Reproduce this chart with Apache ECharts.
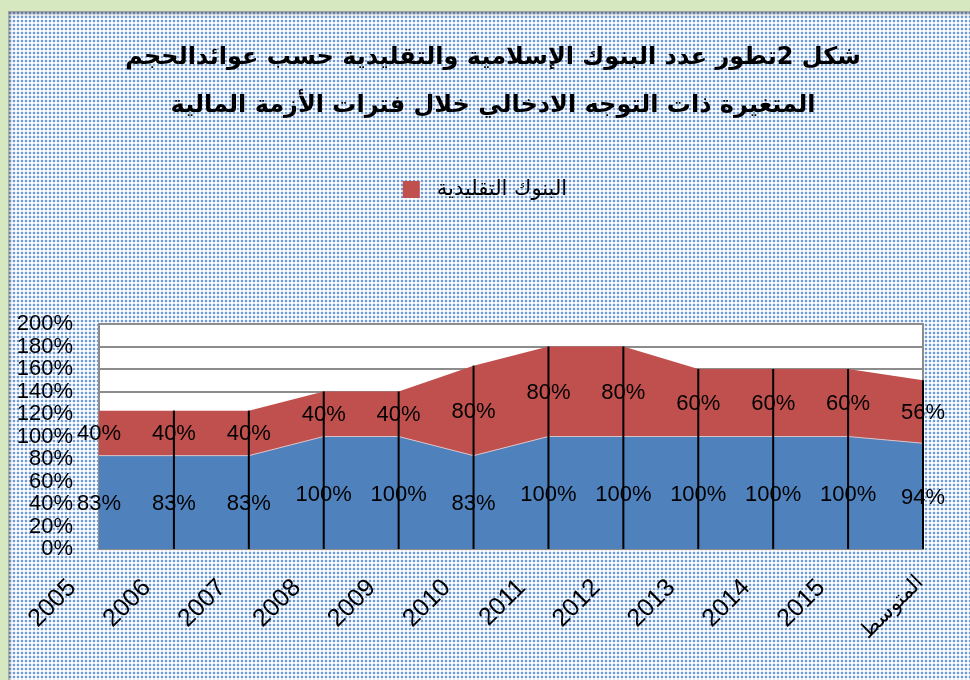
<!DOCTYPE html>
<html>
<head>
<meta charset="utf-8">
<script src="https://cdn.jsdelivr.net/npm/echarts@6/dist/echarts.min.js"></script>
<style>
    html, body { margin: 0; padding: 0; background: #d5e8bf; }
    #frame {
        position: absolute; left: 8px; top: 11px; width: 962px; height: 669px;
        background-color: #fff;
        background-image: radial-gradient(circle, #6f9bd8 0.9px, rgba(111,155,216,0.35) 1.4px, transparent 1.8px);
        background-size: 4px 4px;
        box-shadow: inset 3px 4px 3px -1px rgba(90,90,90,0.55);
    }
    #chart { position: absolute; left: 0; top: 0; width: 970px; height: 680px; }
</style>
</head>
<body>
<div id="frame"></div>
<div id="chart"></div>
<script>
// categories and values (percent)
var years = ['2005', '2006', '2007', '2008', '2009', '2010', '2011', '2012', '2013', '2014', '2015', 'المتوسط'];
var islamicBanks = [83, 83, 83, 100, 100, 83, 100, 100, 100, 100, 100, 94];
var conventionalBanks = [40, 40, 40, 40, 40, 80, 80, 80, 60, 60, 60, 56];
var titleText = 'شكل 2تطور عدد البنوك الإسلامية والتقليدية حسب عوائدالحجم\nالمتغيرة ذات التوجه الادخالي خلال فترات الأزمة المالية';

var blue = '#4f81bd';
var red = '#c0504d';

// [index, islamic, conventional] for drop lines and labels
var labelData = years.map(function (y, i) {
    return [i, islamicBanks[i], conventionalBanks[i]];
});

var myChart = echarts.init(document.getElementById('chart'));

myChart.setOption({
    backgroundColor: 'transparent',
    animation: false,
    title: {
        text: titleText,
        left: 488,
        textAlign: 'center',
        top: 29,
        textStyle: {
            fontFamily: 'DejaVu Sans',
            fontSize: 24,
            fontWeight: 'bold',
            color: '#000',
            lineHeight: 48,
            align: 'center'
        }
    },
    legend: {
        data: ['البنوك التقليدية'],
        top: 174,
        left: 'center',
        icon: 'rect',
        itemWidth: 17,
        itemHeight: 17,
        textStyle: {
            fontFamily: 'DejaVu Sans',
            fontSize: 21,
            color: '#000',
            padding: [0, 0, 0, 12]
        }
    },
    grid: {
        left: 99,
        right: 47,
        top: 324,
        bottom: 131,
        show: true,
        backgroundColor: '#fff',
        borderColor: '#8c8c8c',
        borderWidth: 2
    },
    xAxis: {
        type: 'category',
        data: years,
        boundaryGap: false,
        axisLine: { lineStyle: { color: '#8c8c8c', width: 2 } },
        axisTick: { show: false },
        axisLabel: {
            interval: 0,
            rotate: 45,
            margin: 8,
            fontFamily: 'Liberation Sans',
            fontSize: 25,
            color: '#000',
            formatter: function (value, index) {
                return index === years.length - 1 ? '{avg|' + value + '}' : '{yr|' + value + '}';
            },
            rich: {
                yr: { fontFamily: 'Liberation Sans', fontSize: 25, color: '#000', padding: [0, 38, 0, 0] },
                avg: { fontFamily: 'DejaVu Sans', fontSize: 21, color: '#000', padding: [28, 18, 0, 0] }
            }
        }
    },
    yAxis: {
        type: 'value',
        min: 0,
        max: 200,
        interval: 20,
        axisLine: { show: false },
        axisTick: { show: false },
        splitLine: { lineStyle: { color: '#8c8c8c', width: 2 } },
        axisLabel: {
            formatter: '{value}%',
            margin: 26,
            fontFamily: 'Liberation Sans',
            fontSize: 22,
            color: '#000'
        }
    },
    series: [
        {
            name: 'البنوك الإسلامية',
            type: 'line',
            stack: 'total',
            data: islamicBanks,
            symbol: 'none',
            lineStyle: { width: 1, color: '#d8c2c8' },
            areaStyle: { color: blue, opacity: 1 },
            itemStyle: { color: blue }
        },
        {
            name: 'البنوك التقليدية',
            type: 'line',
            stack: 'total',
            data: conventionalBanks,
            symbol: 'none',
            lineStyle: { width: 0 },
            areaStyle: { color: red, opacity: 1 },
            itemStyle: { color: red }
        },
        {
            // drop lines and value labels in the middle of each band
            type: 'custom',
            data: labelData,
            z: 5,
            silent: true,
            renderItem: function (params, api) {
                var i = api.value(0);
                var b = api.value(1);
                var r = api.value(2);
                var p0 = api.coord([i, 0]);
                var pt = api.coord([i, b + r]);
                var pb = api.coord([i, b / 2]);
                var pr = api.coord([i, b + r / 2]);
                var children = [];
                // the first drop line sits under the grey plot border
                if (i > 0) {
                    children.push({
                        type: 'line',
                        shape: { x1: p0[0], y1: p0[1], x2: pt[0], y2: pt[1] },
                        style: { stroke: '#000', lineWidth: 2 }
                    });
                }
                children.push({
                    type: 'text',
                    style: {
                        text: b + '%', x: pb[0], y: pb[1] + 2,
                        fill: '#000', font: '22px "Liberation Sans"',
                        align: 'center', verticalAlign: 'middle'
                    }
                }, {
                    type: 'text',
                    style: {
                        text: r + '%', x: pr[0], y: pr[1] + 1,
                        fill: '#000', font: '22px "Liberation Sans"',
                        align: 'center', verticalAlign: 'middle'
                    }
                });
                return { type: 'group', children: children };
            }
        }
    ]
});
</script>
</body>
</html>
